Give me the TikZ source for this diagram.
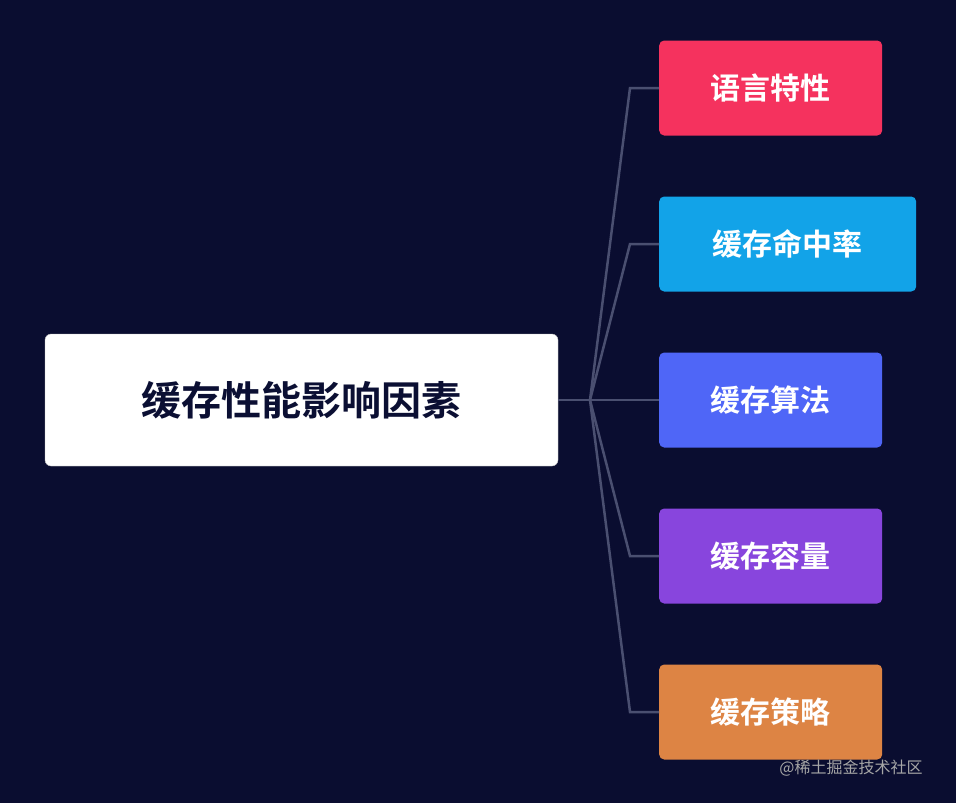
\documentclass[tikz,border=0pt]{standalone}
\usepackage{fontspec}
\newfontfamily\cjk{Noto Sans CJK SC}[BoldFont={Noto Sans CJK SC Bold}]
\definecolor{bg}{HTML}{0A0D30}
\definecolor{ln}{HTML}{4A4F70}
\definecolor{c1}{HTML}{F5325E}
\definecolor{c2}{HTML}{12A3E8}
\definecolor{c3}{HTML}{4F66F7}
\definecolor{c4}{HTML}{8845DD}
\definecolor{c5}{HTML}{DD8444}
\definecolor{rt}{HTML}{0B0F33}
\begin{document}
\begin{tikzpicture}[x=1pt,y=-1pt,
  kid/.style={rounded corners=5pt,minimum height=95pt,text=white,font=\cjk\bfseries\fontsize{30}{32}\selectfont,anchor=west,inner sep=0pt},
  conn/.style={draw=ln,line width=2.5pt}]
\fill[bg] (0,0) rectangle (956,803);
\useasboundingbox (0,0) rectangle (956,803);
\node[draw=gray!50,fill=white,rounded corners=6pt,minimum width=513pt,minimum height=132pt,text=rt,font=\cjk\bfseries\fontsize{40}{44}\selectfont] (root) at (301.5,400) {缓存性能影响因素};
\node[kid,fill=c1,minimum width=223pt] (k1) at (659,88) {语言特性};
\node[kid,fill=c2,minimum width=257pt] (k2) at (659,244) {缓存命中率};
\node[kid,fill=c3,minimum width=223pt] (k3) at (659,400) {缓存算法};
\node[kid,fill=c4,minimum width=223pt] (k4) at (659,556) {缓存容量};
\node[kid,fill=c5,minimum width=223pt] (k5) at (659,712) {缓存策略};
\coordinate (hub) at (590,400);
\draw[conn] (root.east) -- (hub);
\draw[conn] (hub) -- (630,88) -- (k1.west);
\draw[conn] (hub) -- (630,244) -- (k2.west);
\draw[conn] (hub) -- (k3.west);
\draw[conn] (hub) -- (630,556) -- (k4.west);
\draw[conn] (hub) -- (630,712) -- (k5.west);
\node[text=gray!70,font=\cjk\fontsize{16}{18}\selectfont] (wm) at (851,768) {@稀土掘金技术社区};
\end{tikzpicture}
\end{document}
